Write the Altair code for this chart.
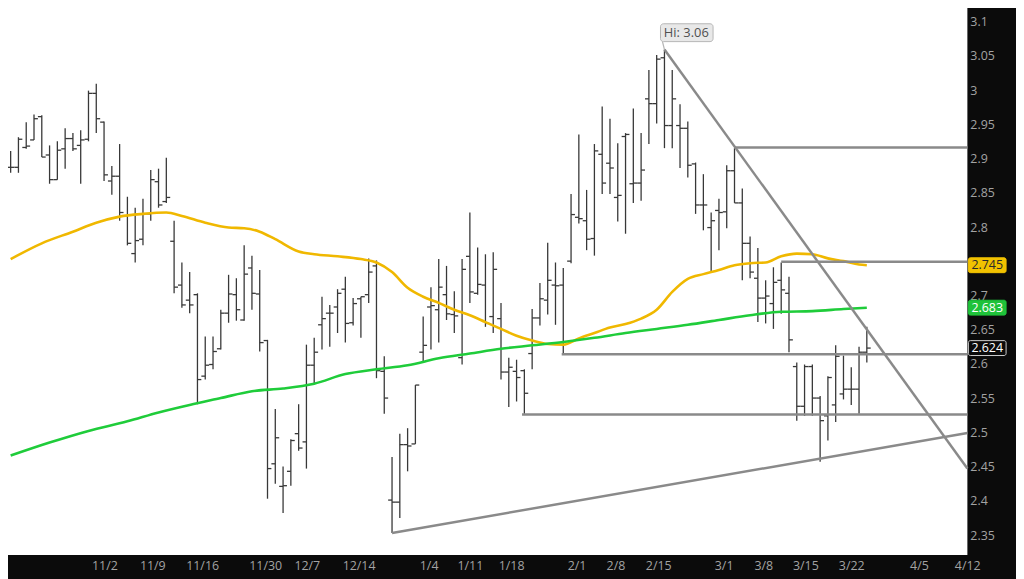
import altair as alt
import pandas as pd

# ---------------- OHLC data (daily bars) ----------------
opens = [2.888, 2.888, 2.917, 2.928, 2.962, 2.906, 2.870, 2.915, 2.930, 2.920,
         2.929, 2.996, 2.954, 2.868, 2.875, 2.817, 2.762, 2.783, 2.820, 2.867,
         2.838, 2.780, 2.716, 2.694, 2.702, 2.583, 2.600, 2.623, 2.675, 2.702,
         2.665, 2.741, 2.703, 2.635, 2.455, 2.422, 2.444, 2.499, 2.487, 2.599,
         2.658, 2.675, 2.684, 2.710, 2.661, 2.696, 2.702, 2.744, 2.590, 2.402,
         2.399, 2.483, 2.484, 2.618, 2.684, 2.680, 2.702, 2.673, 2.610, 2.758,
         2.704, 2.716, 2.670, 2.667, 2.589, 2.590, 2.591, 2.616, 2.668, 2.694,
         2.716, 2.716, 2.751, 2.815, 2.810, 2.784, 2.907, 2.894, 2.844, 2.933,
         2.864, 2.865, 2.988, 2.981, 3.048, 2.949, 2.949, 2.945, 2.893, 2.833,
         2.800, 2.825, 2.823, 2.883, 2.836, 2.777, 2.726, 2.697, 2.689, 2.723,
         2.704, 2.597, 2.539, 2.597, 2.551, 2.525, 2.541, 2.557, 2.564, 2.564,
         2.618]
highs = [2.912, 2.932, 2.954, 2.965, 2.964, 2.920, 2.926, 2.945, 2.938, 2.942,
         3.000, 3.010, 2.955, 2.890, 2.922, 2.845, 2.829, 2.842, 2.884, 2.886,
         2.902, 2.810, 2.749, 2.735, 2.704, 2.641, 2.641, 2.680, 2.731, 2.726,
         2.774, 2.759, 2.738, 2.636, 2.535, 2.451, 2.491, 2.542, 2.629, 2.639,
         2.699, 2.687, 2.710, 2.728, 2.697, 2.699, 2.755, 2.752, 2.612, 2.465,
         2.499, 2.507, 2.570, 2.670, 2.713, 2.754, 2.744, 2.707, 2.754, 2.822,
         2.771, 2.761, 2.764, 2.690, 2.610, 2.607, 2.593, 2.681, 2.719, 2.778,
         2.749, 2.741, 2.849, 2.936, 2.855, 2.922, 2.977, 2.959, 2.923, 2.938,
         2.974, 2.938, 3.030, 3.052, 3.060, 3.030, 2.980, 2.955, 2.895, 2.878,
         2.822, 2.842, 2.891, 2.916, 2.857, 2.787, 2.770, 2.723, 2.742, 2.749,
         2.728, 2.603, 2.600, 2.600, 2.554, 2.583, 2.628, 2.613, 2.596, 2.626,
         2.655]
lows = [2.880, 2.880, 2.915, 2.928, 2.903, 2.864, 2.870, 2.886, 2.912, 2.864,
        2.926, 2.938, 2.868, 2.848, 2.810, 2.774, 2.749, 2.774, 2.810, 2.829,
        2.836, 2.704, 2.683, 2.675, 2.542, 2.578, 2.593, 2.622, 2.661, 2.664,
        2.664, 2.680, 2.619, 2.404, 2.426, 2.383, 2.423, 2.474, 2.448, 2.571,
        2.622, 2.626, 2.646, 2.632, 2.657, 2.639, 2.690, 2.580, 2.528, 2.354,
        2.376, 2.444, 2.484, 2.603, 2.622, 2.632, 2.665, 2.646, 2.600, 2.690,
        2.702, 2.655, 2.646, 2.578, 2.538, 2.546, 2.528, 2.593, 2.657, 2.673,
        2.658, 2.615, 2.748, 2.806, 2.767, 2.759, 2.849, 2.849, 2.809, 2.791,
        2.836, 2.839, 2.922, 2.952, 2.916, 2.916, 2.887, 2.873, 2.820, 2.796,
        2.735, 2.767, 2.799, 2.836, 2.723, 2.726, 2.662, 2.660, 2.652, 2.674,
        2.618, 2.518, 2.525, 2.525, 2.458, 2.489, 2.516, 2.549, 2.541, 2.528,
        2.603]
closes = [2.888, 2.929, 2.919, 2.959, 2.903, 2.870, 2.913, 2.930, 2.915, 2.928,
          2.996, 2.959, 2.877, 2.875, 2.822, 2.777, 2.781, 2.820, 2.870, 2.833,
          2.844, 2.713, 2.687, 2.687, 2.578, 2.599, 2.619, 2.675, 2.703, 2.680,
          2.732, 2.704, 2.632, 2.448, 2.493, 2.423, 2.489, 2.478, 2.599, 2.618,
          2.667, 2.675, 2.704, 2.660, 2.689, 2.699, 2.735, 2.591, 2.551, 2.399,
          2.483, 2.481, 2.570, 2.628, 2.686, 2.713, 2.674, 2.671, 2.739, 2.706,
          2.717, 2.660, 2.739, 2.589, 2.596, 2.581, 2.558, 2.668, 2.696, 2.723,
          2.715, 2.615, 2.819, 2.813, 2.783, 2.912, 2.865, 2.887, 2.847, 2.936,
          2.865, 2.884, 2.981, 3.046, 2.949, 2.988, 2.945, 2.891, 2.833, 2.833,
          2.810, 2.822, 2.883, 2.836, 2.777, 2.735, 2.697, 2.700, 2.720, 2.709,
          2.636, 2.539, 2.597, 2.551, 2.518, 2.581, 2.612, 2.564, 2.564, 2.618,
          2.624]

# ---------------- moving averages (sampled at bar indices) ----------------
ma_yellow_idx = [0, 4, 8, 11, 14, 17, 20, 22, 25, 28, 30, 32, 34, 37, 39, 42, 45, 47, 49, 51,
                 53, 55, 57, 59, 61, 63, 65, 67, 69, 71, 73, 75, 77, 79, 81, 83, 85, 87, 89, 91,
                 93, 95, 97, 99, 101, 103, 105, 107, 109, 110]
ma_yellow_val = [2.754, 2.777, 2.794, 2.807, 2.816, 2.820, 2.822, 2.817, 2.807, 2.800,
                 2.799, 2.794, 2.783, 2.765, 2.761, 2.758, 2.754, 2.749, 2.735, 2.712,
                 2.699, 2.690, 2.680, 2.672, 2.662, 2.652, 2.642, 2.635, 2.630, 2.629,
                 2.638, 2.646, 2.654, 2.659, 2.667, 2.680, 2.706, 2.725, 2.732, 2.738,
                 2.745, 2.748, 2.749, 2.758, 2.762, 2.761, 2.755, 2.751, 2.746, 2.745]
ma_green_idx = [0, 5, 10, 15, 19, 23, 27, 31, 35, 39, 43, 47, 51, 55, 59, 63, 67, 71, 75, 79,
                83, 87, 91, 95, 99, 103, 107, 110]
ma_green_val = [2.467, 2.486, 2.503, 2.517, 2.530, 2.541, 2.551, 2.561, 2.565, 2.572,
                2.586, 2.593, 2.599, 2.609, 2.616, 2.623, 2.628, 2.633, 2.639, 2.646,
                2.652, 2.658, 2.665, 2.672, 2.677, 2.678, 2.681, 2.683]

# ---------------- drawn studies ----------------
x_end = 122.92                      # right edge of the price pane (bar index)
trend_start_idx = [84, 49]
trend_start_val = [3.060, 2.354]
trend_end_val = [2.448, 2.500]
level_start_idx = [93, 99, 70.8, 65.7]
level_val = [2.917, 2.750, 2.615, 2.527]

hi_idx = [84]
hi_val = [3.06]
hi_text = ["Hi: 3.06"]

tag_val = [2.745, 2.683, 2.624]
tag_text = ["2.745", "2.683", "2.624"]
tag_fill = ["#f2c200", "#1fc23a", "#0b0b0b"]
tag_stroke = ["#f2c200", "#1fc23a", "#d0d0d0"]
tag_font = ["#2a2a2a", "#ffffff", "#ffffff"]

# ---------------- axes ----------------
date_labels = ["11/2", "11/9", "11/16", "11/30", "12/7", "12/14", "1/4", "1/11", "1/18",
               "2/1", "2/8", "2/15", "3/1", "3/8", "3/15", "3/22", "4/5", "4/12"]
date_pos = [12.05, 18.2, 24.6, 32.7, 38.05, 44.7, 53.7, 59.0, 64.3,
            72.7, 77.7, 83.2, 91.6, 96.7, 102.1, 108.0, 116.7, 122.9]
# price scale labels (2.75 sits fully under the 2.745 tag in the original)
price_ticks = [2.35, 2.4, 2.45, 2.5, 2.55, 2.6, 2.65, 2.7, 2.8, 2.85, 2.9,
               2.95, 3.0, 3.05, 3.1]
price_labels = ["%g" % v for v in price_ticks]

X_DOMAIN = [-0.341, x_end]
Y_DOMAIN = [2.3219, 3.1174]

# ---------------- tables ----------------
bars = pd.DataFrame({"i": list(range(len(closes))), "open": opens, "high": highs,
                     "low": lows, "close": closes})
yel = pd.DataFrame({"i": ma_yellow_idx, "v": ma_yellow_val})
grn = pd.DataFrame({"i": ma_green_idx, "v": ma_green_val})
segs = pd.DataFrame({
    "x1": trend_start_idx + level_start_idx,
    "y1": trend_start_val + level_val,
    "x2": [x_end] * (len(trend_start_idx) + len(level_start_idx)),
    "y2": trend_end_val + level_val,
})
hi = pd.DataFrame({"i": hi_idx, "v": hi_val, "label": hi_text})
tags = pd.DataFrame({"edge": [x_end] * len(tag_val), "v": tag_val, "label": tag_text,
                     "fill": tag_fill, "stroke": tag_stroke, "font": tag_font})
plabels = pd.DataFrame({"edge": [x_end] * len(price_ticks), "v": price_ticks,
                        "label": price_labels})
# dark price-scale (right) and date-scale (bottom) panes, anchored to the pane edges
edges = pd.DataFrame({"x_lo": [X_DOMAIN[0]], "x_hi": [X_DOMAIN[1]],
                      "y_lo": [Y_DOMAIN[0]], "y_hi": [Y_DOMAIN[1]]})

xs = alt.Scale(domain=X_DOMAIN, nice=False, zero=False)
ys = alt.Scale(domain=Y_DOMAIN, nice=False, zero=False)

labels_js = "[" + ",".join("'%s'" % s for s in date_labels) + "]"
pos_js = "[" + ",".join(str(p) for p in date_pos) + "]"
x_axis = alt.Axis(values=date_pos, labelExpr=f"{labels_js}[indexof({pos_js}, datum.value)]",
                  orient="bottom", title=None, labelOverlap=False, labelFlush=False,
                  labelBound=False, tickSize=0, domain=False, grid=False, labelPadding=5,
                  labelBaseline="top", zindex=2)

BAR_COLOR = "#383838"
LABEL_COLOR = "#a3a3a3"
PANE_COLOR = "#0b0b0b"

right_pane = alt.Chart(edges).mark_rect(color=PANE_COLOR, x2Offset=80, yOffset=-20,
                                        y2Offset=40).encode(
    x=alt.X("x_hi:Q", scale=xs, axis=x_axis), x2="x_hi:Q",
    y=alt.Y("y_hi:Q", scale=ys, axis=None), y2="y_lo:Q")
bottom_pane = alt.Chart(edges).mark_rect(color=PANE_COLOR, xOffset=-20, x2Offset=80,
                                         y2Offset=40).encode(
    x=alt.X("x_lo:Q", scale=xs), x2="x_hi:Q",
    y=alt.Y("y_lo:Q", scale=ys, axis=None), y2="y_lo:Q")

hl = alt.Chart(bars).mark_rule(color=BAR_COLOR, strokeWidth=1.3).encode(
    x=alt.X("i:Q", scale=xs),
    y=alt.Y("low:Q", scale=ys, axis=None),
    y2="high:Q",
)
op = alt.Chart(bars).transform_calculate(xo="datum.i - 0.5").mark_rule(
    color=BAR_COLOR, strokeWidth=1.3).encode(
    x=alt.X("xo:Q", scale=xs), x2="i:Q", y=alt.Y("open:Q", scale=ys, axis=None))
cl = alt.Chart(bars).transform_calculate(xc="datum.i + 0.5").mark_rule(
    color=BAR_COLOR, strokeWidth=1.3).encode(
    x=alt.X("i:Q", scale=xs), x2="xc:Q", y=alt.Y("close:Q", scale=ys, axis=None))

yline = alt.Chart(yel).mark_line(color="#f0b800", strokeWidth=2.6, interpolate="monotone").encode(
    x=alt.X("i:Q", scale=xs), y=alt.Y("v:Q", scale=ys, axis=None))
gline = alt.Chart(grn).mark_line(color="#1fcc3a", strokeWidth=2.6, interpolate="monotone").encode(
    x=alt.X("i:Q", scale=xs), y=alt.Y("v:Q", scale=ys, axis=None))

studies = alt.Chart(segs).mark_rule(color="#8a8a8a", strokeWidth=2.5).encode(
    x=alt.X("x1:Q", scale=xs), y=alt.Y("y1:Q", scale=ys, axis=None), x2="x2:Q", y2="y2:Q")

hi_box = alt.Chart(hi).mark_rect(fill="#e8e8e8", stroke="#b5b5b5", strokeWidth=1,
                                 cornerRadius=3, xOffset=-4, x2Offset=49,
                                 yOffset=-26, y2Offset=-8).encode(
    x=alt.X("i:Q", scale=xs), x2="i:Q", y=alt.Y("v:Q", scale=ys, axis=None), y2="v:Q")
hi_ptr = alt.Chart(hi).mark_rule(color="#b5b5b5", strokeWidth=1.2, x2Offset=-2,
                                 y2Offset=-8).encode(
    x=alt.X("i:Q", scale=xs), x2="i:Q", y=alt.Y("v:Q", scale=ys, axis=None), y2="v:Q")
hi_txt = alt.Chart(hi).mark_text(dx=22, dy=-17, color="#505050", fontSize=13,
                                 font="Open Sans", align="center", baseline="middle").encode(
    x=alt.X("i:Q", scale=xs), y=alt.Y("v:Q", scale=ys, axis=None), text="label:N")

price_txt = alt.Chart(plabels).mark_text(dx=3, fontSize=12.5, font="Open Sans", align="left",
                                         baseline="middle", color=LABEL_COLOR).encode(
    x=alt.X("edge:Q", scale=xs), y=alt.Y("v:Q", scale=ys, axis=None), text="label:N")

tag_box = alt.Chart(tags).mark_rect(strokeWidth=1, cornerRadius=2, xOffset=1, x2Offset=39,
                                    yOffset=-7.5, y2Offset=7.5).encode(
    x=alt.X("edge:Q", scale=xs), x2="edge:Q", y=alt.Y("v:Q", scale=ys, axis=None), y2="v:Q",
    fill=alt.Fill("fill:N", scale=None), stroke=alt.Stroke("stroke:N", scale=None))
tag_txt = alt.Chart(tags).mark_text(dx=20, fontSize=12.5, font="Open Sans", align="center",
                                    baseline="middle").encode(
    x=alt.X("edge:Q", scale=xs), y=alt.Y("v:Q", scale=ys, axis=None), text="label:N",
    color=alt.Color("font:N", scale=None))

chart = alt.layer(right_pane, bottom_pane, hl, op, cl, yline, gline, studies,
                  hi_box, hi_ptr, hi_txt, price_txt, tag_box, tag_txt).properties(
    width=967, height=549,
    autosize=alt.AutoSizeParams(type="none"),
    padding={"left": 0, "top": 0, "right": 49, "bottom": 22},
    background="white",
).configure_view(fill="white", strokeWidth=0).configure_axis(
    labelColor=LABEL_COLOR, labelFont="Open Sans", labelFontSize=12.5,
)

chart.save("out.html", embed_options={"renderer": "svg", "actions": False})
